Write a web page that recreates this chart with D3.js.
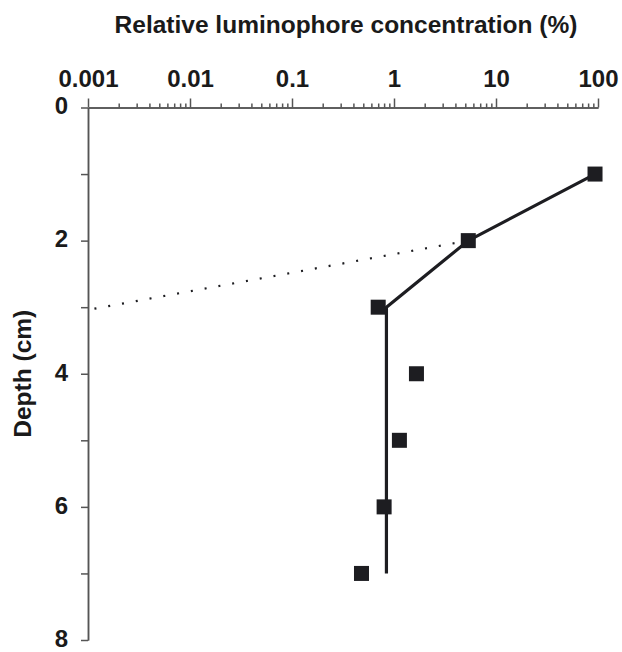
<!doctype html>
<html>
<head>
  <meta charset="utf-8">
  <title>Luminophore profile</title>
  <script src="https://d3js.org/d3.v7.min.js"></script>
  <style>
    body { margin: 0; background: #fff; }
    svg { display: block; font-family: "Liberation Sans", Arial, sans-serif; }
    .lbl { font-weight: bold; font-size: 24.5px; fill: #1a1a1a; }
    .axis path, .axis line { stroke: #555; stroke-width: 1.5; }
    .axis text { font-weight: bold; font-size: 24px; fill: #1a1a1a; font-family: "Liberation Sans", Arial, sans-serif; }
  </style>
</head>
<body>
  <div id="chart"></div>
  <script>
    // measured points
    var depth = [1, 2, 3, 4, 5, 6, 7];
    var conc = [93.5, 5.35, 0.70, 1.66, 1.13, 0.80, 0.48];

    // solid fitted profile
    var fitDepth = [1, 2, 3, 7];
    var fitConc = [93.5, 5.35, 0.843, 0.843];

    // dotted extrapolation
    var extDepth = [2, 3.04];
    var extConc = [5.35, 0.001];

    var xMajor = [0.001, 0.01, 0.1, 1, 10, 100];
    var xLabels = ["0.001", "0.01", "0.1", "1", "10", "100"];
    var yMajor = [0, 2, 4, 6, 8];
    var yMinor = [1, 3, 5, 7];

    var width = 622, height = 652;

    var svg = d3.select("#chart").append("svg")
      .attr("width", width)
      .attr("height", height);

    var x = d3.scaleLog().domain([0.001, 100]).range([88, 598]);
    var y = d3.scaleLinear().domain([0, 8]).range([107.5, 640]);

    // minor ticks for log axis
    var xMinor = [];
    xMajor.slice(0, -1).forEach(function(m) {
      for (var k = 2; k <= 9; k++) xMinor.push(m * k);
    });

    // top axis minor ticks
    svg.append("g")
      .attr("class", "axis")
      .attr("transform", "translate(0," + y(0) + ")")
      .call(d3.axisTop(x).tickValues(xMinor).tickSize(4).tickSizeOuter(0).tickFormat(""));

    // top axis major ticks + labels
    svg.append("g")
      .attr("class", "axis")
      .attr("transform", "translate(0," + y(0) + ")")
      .call(d3.axisTop(x).tickValues(xMajor).tickSize(9).tickSizeOuter(0).tickPadding(12)
        .tickFormat(function(d, i) { return xLabels[i]; }));

    // left axis
    svg.append("g")
      .attr("class", "axis")
      .attr("transform", "translate(" + x(0.001) + ",0)")
      .call(d3.axisLeft(y).tickValues(yMinor).tickSize(7).tickSizeOuter(0).tickFormat(""));

    svg.append("g")
      .attr("class", "axis")
      .attr("transform", "translate(" + x(0.001) + ",0)")
      .call(d3.axisLeft(y).tickValues(yMajor).tickSize(7).tickSizeOuter(0).tickPadding(13))
      .selectAll("text")
      .attr("dy", "0.26em");

    // titles
    svg.append("text")
      .attr("class", "lbl")
      .attr("x", 346)
      .attr("y", 33)
      .attr("text-anchor", "middle")
      .text("Relative luminophore concentration (%)");

    svg.append("text")
      .attr("class", "lbl")
      .attr("transform", "translate(31," + y(4) + ")rotate(-90)")
      .attr("text-anchor", "middle")
      .text("Depth (cm)");

    var line = d3.line()
      .x(function(d) { return x(d[0]); })
      .y(function(d) { return y(d[1]); });

    // dotted extrapolation
    svg.append("path")
      .attr("d", line(extConc.map(function(c, i) { return [c, extDepth[i]]; })))
      .attr("fill", "none")
      .attr("stroke", "#1d1d21")
      .attr("stroke-width", 2.2)
      .attr("stroke-dasharray", "2 12");

    // solid profile
    svg.append("path")
      .attr("d", line(fitConc.map(function(c, i) { return [c, fitDepth[i]]; })))
      .attr("fill", "none")
      .attr("stroke", "#1d1d21")
      .attr("stroke-width", 3.2)
      .attr("stroke-linejoin", "round");

    // squares
    var s = 15;
    svg.selectAll("rect.pt")
      .data(depth)
      .enter()
      .append("rect")
      .attr("class", "pt")
      .attr("x", function(d, i) { return x(conc[i]) - s / 2; })
      .attr("y", function(d) { return y(d) - s / 2; })
      .attr("width", s)
      .attr("height", s)
      .attr("fill", "#1d1d21");
  </script>
</body>
</html>
